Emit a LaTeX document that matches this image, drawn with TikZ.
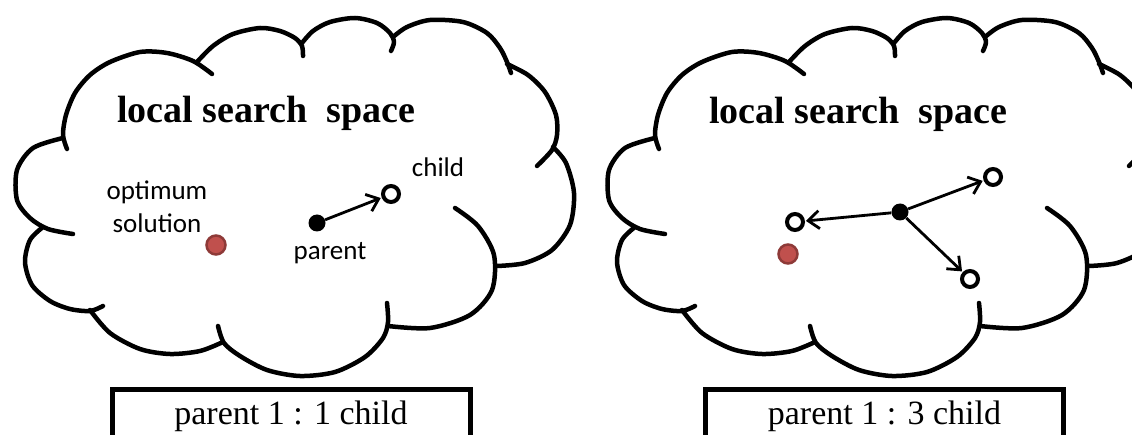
\documentclass[tikz,border=0pt]{standalone}
\usepackage{fontspec}
\setmainfont{Liberation Serif}
\newfontfamily\labelfont{Carlito}
\usepackage{tikz}
\usetikzlibrary{arrows.meta}
\definecolor{OptRed}{HTML}{C0504D}
\definecolor{OptRim}{HTML}{8E3A38}

\begin{document}
\begin{tikzpicture}[x=1pt, y=-1pt,
    cloudline/.style={line width=4.5pt, line cap=round, line join=round},
    title/.style={font=\fontsize{38}{40}\selectfont\bfseries, anchor=base, inner sep=0pt},
    lbl/.style={font=\labelfont\fontsize{27}{33}\selectfont, anchor=base, inner sep=0pt},
    pardot/.style={circle, fill=black, inner sep=0pt, minimum size=17pt},
    childdot/.style={circle, draw=black, fill=white, line width=4pt, inner sep=0pt, minimum size=16pt},
    optdot/.style={circle, fill=OptRed, draw=OptRim, line width=2.5pt, inner sep=0pt, minimum size=19pt},
    move/.style={-{Straight Barb[length=11pt, width=18pt]}, line width=2.8pt, shorten >=1pt},
    capbox/.style={draw, line width=5pt, minimum width=358pt, minimum height=55pt,
                   text height=24pt, text depth=8pt, inner sep=0pt,
                   font=\fontsize{34}{36}\selectfont, anchor=north}]
  \useasboundingbox (0,0) rectangle (1132,435);
  \clip (0,0) rectangle (1132,435);
  % Two clouds, same outline
  \foreach \dx in {0,592}{
    \begin{scope}[shift={(\dx,0)}, cloudline]
      \draw plot[smooth] coordinates {(63,138) (33,148) (17,170) (17,200) (30,218) (48,229) (73,234)};
      \draw plot[smooth] coordinates {(67,149) (63,135) (66,115) (75,93) (90,75) (110,62) (140,52) (167,53) (193,61) (212,74)};
      \draw plot[smooth] coordinates {(197,62) (213,46) (233,34) (260,28) (280,31) (295,38) (302,46) (303,56)};
      \draw plot[smooth] coordinates {(302,43) (313,31) (330,22) (355,18) (377,23) (390,33) (394,42) (391,51)};
      \draw plot[smooth] coordinates {(393,37) (407,27) (430,20) (463,22) (487,33) (500,48) (507,62) (511,73)};
      \draw plot[smooth] coordinates {(507,64) (528,75) (545,92) (556,115) (557,135) (552,150) (537,166)};
      \draw plot[smooth] coordinates {(553,147) (566,163) (574,193) (570,225) (552,250) (525,263) (497,266)};
      \draw plot[smooth] coordinates {(455,208) (478,226) (494,255) (492,290) (470,315) (430,328) (388,326)};
      \draw plot[smooth] coordinates {(218,326) (224,343) (240,356) (267,370) (300,376) (335,372) (365,357) (383,338) (388,322) (387,303)};
      \draw plot[smooth] coordinates {(90,310) (110,333) (140,349) (170,354) (200,351) (223,342)};
      \draw plot[smooth] coordinates {(43,227) (30,240) (25,262) (32,285) (50,301) (70,309) (90,311) (103,306)};
    \end{scope}
  }
  % Left cloud: one child
  \node[title] (titleL) at (266,123) {local search\ \ space};
  \node[lbl, anchor=center, align=center] (optlbl) at (157,207) {optimum\\solution};
  \node[optdot] (optL) at (216,245) {};
  \node[pardot] (parL) at (317,223) {};
  \node[childdot] (chL) at (391,194) {};
  \node[lbl] (chlbl) at (438,177) {child};
  \node[lbl] (parlbl) at (330,260) {parent};
  \draw[move] (parL) -- (chL);
  % Right cloud: three children
  \node[title] (titleR) at (858,124) {local search\ \ space};
  \node[optdot] (optR) at (788,254) {};
  \node[pardot] (parR) at (900,212) {};
  \node[childdot] (chRa) at (993,177) {};
  \node[childdot] (chRb) at (795,222) {};
  \node[childdot] (chRc) at (970,279) {};
  \foreach \c in {chRa,chRb,chRc}
    \draw[move] (parR) -- (\c);
  % Captions
  \node[capbox] (boxL) at (291,386.5) {parent 1 : 1 child};
  \node[capbox] (boxR) at (884.5,386.5) {parent 1 : 3 child};
\end{tikzpicture}
\end{document}
